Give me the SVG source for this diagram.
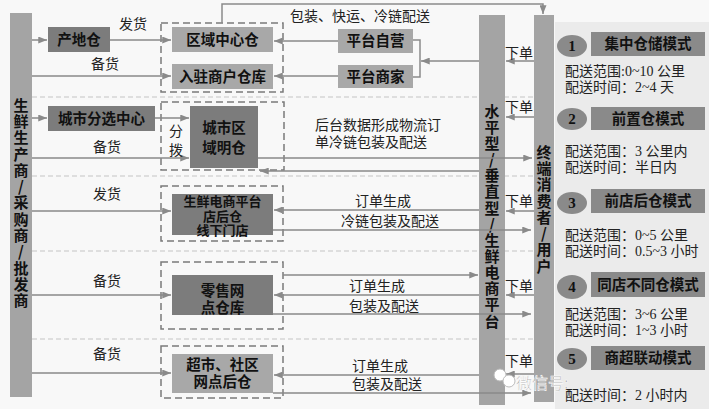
<svg xmlns="http://www.w3.org/2000/svg" width="709" height="409" viewBox="0 0 709 409">
<defs>
<marker id="ah" viewBox="0 0 10 8" refX="10" refY="4" markerWidth="9" markerHeight="7" markerUnits="userSpaceOnUse" orient="auto"><path d="M0,0 L10,4 L0,8 z" fill="#8a8a8a"/></marker>
<style>
.ln{stroke:#8a8a8a;stroke-width:1.5;fill:none}
.ar{stroke:#8a8a8a;stroke-width:1.5;fill:none;marker-end:url(#ah)}
.sep{stroke:#c4c4c4;stroke-width:1.2;stroke-dasharray:5,3}
.dbox{stroke:#7a7a7a;stroke-width:1.5;stroke-dasharray:7,4;fill:none}
.dk{fill:#7c7c7c}
.lt{fill:#a8a8a8}
.bar{fill:#a4a4a4}
.bt{font-family:"Noto Sans CJK SC","Liberation Sans",sans-serif;font-size:14.5px;font-weight:bold;fill:#111;text-anchor:middle}
.bs{font-family:"Noto Sans CJK SC","Liberation Sans",sans-serif;font-size:13px;font-weight:bold;fill:#111;text-anchor:middle}
.lb{font-family:"Noto Sans CJK SC","Liberation Sans",sans-serif;font-size:14px;fill:#222}
.c{text-anchor:middle}
.vt{font-family:"Noto Sans CJK SC","Liberation Sans",sans-serif;font-size:15px;font-weight:bold;fill:#111;writing-mode:vertical-rl;text-orientation:upright}
.hd{fill:#8a8a8a}
.num{font-family:"Liberation Serif",serif;font-size:15px;font-weight:bold;fill:#111;text-anchor:middle}
.dt{font-family:"Liberation Serif","Noto Sans CJK SC",serif;font-size:14px;fill:#222}
</style>
</defs>
<rect x="0" y="0" width="709" height="409" fill="#f8f8f8"/>
<rect x="555" y="22" width="154" height="387" fill="#ebebeb"/>

<g id="separators">
<line class="sep" x1="32" y1="97" x2="534" y2="97"/>
<line class="sep" x1="32" y1="176" x2="534" y2="176"/>
<line class="sep" x1="32" y1="251" x2="534" y2="251"/>
<line class="sep" x1="32" y1="339" x2="534" y2="339"/>
</g>

<g id="producer">
<rect class="bar" x="10" y="13" width="22" height="384"/>
<text class="vt" x="21" y="97.5" letter-spacing="1.3">生鲜生产商/采购商/批发商</text>
</g>

<g id="platform">
<rect class="bar" x="479" y="15" width="26" height="390"/>
<text class="vt" x="492" y="103.5" letter-spacing="1.15">水平型/垂直型/生鲜电商平台</text>
</g>

<g id="consumer">
<rect class="bar" x="534" y="15" width="20" height="387"/>
<text class="vt" x="544" y="144.5" letter-spacing="1.3">终端消费者/用户</text>
</g>

<g id="origin-warehouse"><rect class="dk" x="48" y="27" width="62" height="25"/><text class="bt" x="79" y="45">产地仓</text></g>
<g id="group1"><rect class="dbox" x="161" y="23" width="122" height="69"/></g>
<g id="regional-center"><rect class="lt" x="172" y="27" width="101" height="25"/><text class="bt" x="222.5" y="45">区域中心仓</text></g>
<g id="merchant-warehouse"><rect class="lt" x="172" y="64" width="101" height="25"/><text class="bt" x="222.5" y="82">入驻商户仓库</text></g>
<g id="self-operated"><rect class="lt" x="338" y="29" width="75" height="24"/><text class="bt" x="375.5" y="46">平台自营</text></g>
<g id="platform-merchant"><rect class="lt" x="338" y="65" width="75" height="23"/><text class="bt" x="375.5" y="82">平台商家</text></g>

<g id="city-sorting"><rect class="dk" x="48" y="106" width="107" height="25"/><text class="bt" x="101.5" y="124">城市分选中心</text></g>
<g id="group2"><rect class="dbox" x="161" y="102" width="123" height="68"/></g>
<g id="city-warehouse"><rect class="dk" x="190" y="106" width="68" height="62"/><text class="bt" x="224" y="133"><tspan x="224">城市区</tspan><tspan x="224" dy="20">域明仓</tspan></text></g>

<g id="group3"><rect class="dbox" x="161" y="186" width="122" height="55"/></g>
<g id="store-warehouse"><rect class="dk" x="172" y="194" width="101" height="41"/><text class="bs" x="222.5" y="206"><tspan x="222.5">生鲜电商平台</tspan><tspan x="222.5" dy="14.5">店后仓</tspan><tspan x="222.5" dy="14.5">线下门店</tspan></text></g>

<g id="group4"><rect class="dbox" x="161" y="262" width="122" height="67"/></g>
<g id="retail-warehouse"><rect class="dk" x="172" y="275" width="101" height="40"/><text class="bt" x="222.5" y="296"><tspan x="222.5">零售网</tspan><tspan x="222.5" dy="17">点仓库</tspan></text></g>

<g id="group5"><rect class="dbox" x="161" y="346" width="122" height="52"/></g>
<g id="supermarket-warehouse"><rect class="lt" x="172" y="354" width="101" height="39"/><text class="bt" x="222.5" y="370"><tspan x="222.5">超市、社区</tspan><tspan x="222.5" dy="17">网点后仓</tspan></text></g>

<g id="connectors">
<line class="ar" x1="32" y1="40" x2="47" y2="40"/>
<line class="ar" x1="110" y1="40" x2="171" y2="40"/>
<line class="ar" x1="32" y1="76" x2="171" y2="76"/>
<line class="ar" x1="338" y1="41" x2="274" y2="41"/>
<line class="ar" x1="338" y1="76" x2="274" y2="76"/>
<polyline class="ln" points="413,40 420,40 420,77 413,77"/>
<line class="ar" x1="479" y1="61" x2="421" y2="61"/>
<polyline class="ar" points="222,23 222,4 543,4 543,14"/>
<line class="ar" x1="534" y1="61" x2="506" y2="61"/>

<line class="ar" x1="32" y1="118" x2="47" y2="118"/>
<line class="ar" x1="155" y1="118" x2="189" y2="118"/>
<line class="ar" x1="32" y1="158" x2="189" y2="158"/>
<line class="ar" x1="258" y1="158" x2="532" y2="158"/>
<line class="ar" x1="479" y1="171" x2="260" y2="171"/>
<line class="ar" x1="534" y1="117" x2="506" y2="117"/>

<line class="ar" x1="32" y1="211" x2="171" y2="211"/>
<line class="ar" x1="479" y1="210" x2="274" y2="210"/>
<line class="ar" x1="273" y1="230" x2="531" y2="230"/>
<line class="ar" x1="534" y1="211" x2="506" y2="211"/>

<line class="ar" x1="32" y1="295" x2="171" y2="295"/>
<line class="ar" x1="283" y1="275" x2="478" y2="275"/>
<line class="ar" x1="479" y1="295" x2="274" y2="295"/>
<line class="ar" x1="273" y1="314" x2="531" y2="314"/>
<line class="ar" x1="534" y1="295" x2="506" y2="295"/>

<line class="ar" x1="32" y1="373" x2="171" y2="373"/>
<line class="ar" x1="479" y1="375" x2="274" y2="375"/>
<line class="ar" x1="273" y1="393" x2="531" y2="393"/>
<line class="ar" x1="534" y1="374" x2="506" y2="374"/>
</g>

<g id="labels">
<text class="lb c" x="133" y="29">发货</text>
<text class="lb c" x="105" y="69">备货</text>
<text class="lb" x="290" y="21">包装、快运、冷链配送</text>
<text class="lb c" x="176" y="136"><tspan x="176">分</tspan><tspan x="176" dy="19">拨</tspan></text>
<text class="lb c" x="107" y="152">备货</text>
<text class="lb" x="315" y="130"><tspan x="315">后台数据形成物流订</tspan><tspan x="315" dy="17">单冷链包装及配送</tspan></text>
<text class="lb c" x="107" y="199">发货</text>
<text class="lb c" x="383" y="206">订单生成</text>
<text class="lb c" x="390" y="226">冷链包装及配送</text>
<text class="lb c" x="107" y="286">备货</text>
<text class="lb c" x="377" y="291">订单生成</text>
<text class="lb c" x="384" y="311">包装及配送</text>
<text class="lb c" x="107" y="359">备货</text>
<text class="lb c" x="380" y="371">订单生成</text>
<text class="lb c" x="387" y="389">包装及配送</text>
<text class="lb c" x="519" y="58" font-size="13">下单</text>
<text class="lb c" x="519" y="112" font-size="13">下单</text>
<text class="lb c" x="519" y="206" font-size="13">下单</text>
<text class="lb c" x="519" y="291" font-size="13">下单</text>
<text class="lb c" x="519" y="366" font-size="13">下单</text>
</g>

<g id="mode1">
<ellipse class="hd" cx="572" cy="46" rx="15" ry="11"/><text class="num" x="572" y="51">1</text>
<rect class="hd" x="591" y="32" width="114" height="24"/><text class="bt" x="648" y="49">集中仓储模式</text>
<text class="dt" x="565" y="76"><tspan x="565">配送范围:0~10 公里</tspan><tspan x="565" dy="16">配送时间：2~4 天</tspan></text>
</g>
<g id="mode2">
<ellipse class="hd" cx="572" cy="119" rx="15" ry="11"/><text class="num" x="572" y="124">2</text>
<rect class="hd" x="591" y="107" width="114" height="23"/><text class="bt" x="648" y="124">前置仓模式</text>
<text class="dt" x="565" y="156"><tspan x="565">配送范围：3 公里内</tspan><tspan x="565" dy="16">配送时间：半日内</tspan></text>
</g>
<g id="mode3">
<ellipse class="hd" cx="572" cy="203" rx="15" ry="11"/><text class="num" x="572" y="208">3</text>
<rect class="hd" x="591" y="189" width="114" height="24"/><text class="bt" x="648" y="206">前店后仓模式</text>
<text class="dt" x="565" y="240"><tspan x="565">配送范围：0~5 公里</tspan><tspan x="565" dy="16">配送时间：0.5~3 小时</tspan></text>
</g>
<g id="mode4">
<ellipse class="hd" cx="572" cy="287" rx="15" ry="12"/><text class="num" x="572" y="292">4</text>
<rect class="hd" x="591" y="272" width="114" height="25"/><text class="bt" x="648" y="290">同店不同仓模式</text>
<text class="dt" x="565" y="319"><tspan x="565">配送范围：3~6 公里</tspan><tspan x="565" dy="16">配送时间：1~3 小时</tspan></text>
</g>
<g id="mode5">
<ellipse class="hd" cx="572" cy="359" rx="15" ry="11"/><text class="num" x="572" y="364">5</text>
<rect class="hd" x="591" y="346" width="114" height="24"/><text class="bt" x="648" y="363">商超联动模式</text>
<text class="dt" x="565" y="400">配送时间：2 小时内</text>
</g>

<g id="watermark">
<circle cx="500" cy="375" r="6" fill="#fff" stroke="#bbb"/>
<circle cx="509" cy="381" r="6" fill="#fff" stroke="#bbb"/>
<text x="516" y="389" font-family="Noto Sans CJK SC,sans-serif" font-size="16" fill="#9a9a9a" stroke="#fff" stroke-width="0.6">微信号:</text>
</g>
</svg>
